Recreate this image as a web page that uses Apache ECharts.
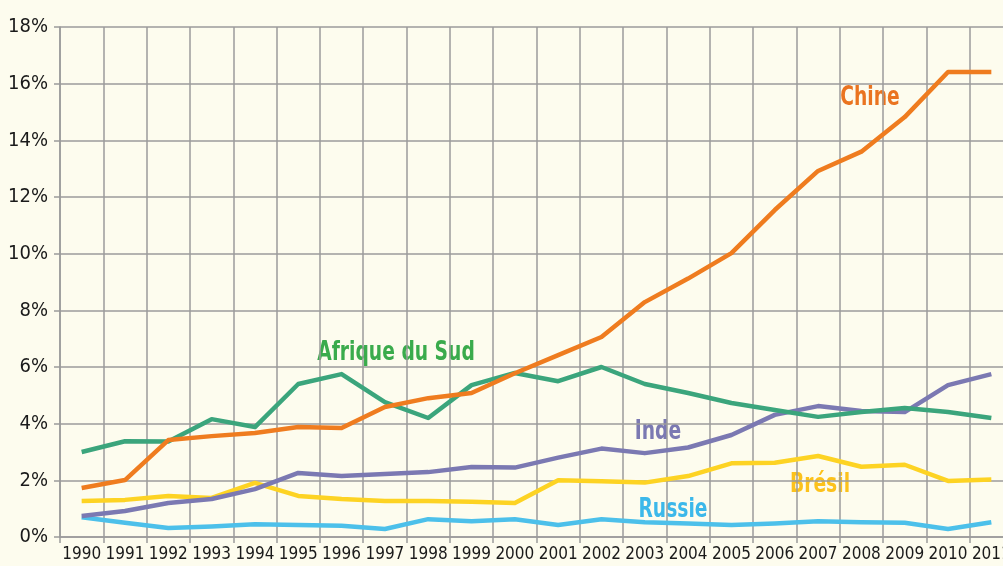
<!DOCTYPE html>
<html>
<head>
<meta charset="utf-8">
<script src="https://cdn.jsdelivr.net/npm/echarts@6/dist/echarts.min.js"></script>
<style>
    html, body { margin: 0; padding: 0; background: #fdfcee; }
    #chart { width: 1003px; height: 566px; }
</style>
</head>
<body>
<div id="chart"></div>
<script>
const years = ['1990', '1991', '1992', '1993', '1994', '1995', '1996', '1997', '1998', '1999', '2000',
    '2001', '2002', '2003', '2004', '2005', '2006', '2007', '2008', '2009', '2010', '2011'];

const chine = [1.73, 2.01, 3.42, 3.56, 3.67, 3.88, 3.85, 4.59, 4.9, 5.08, 5.78,
    6.42, 7.06, 8.29, 9.12, 10.02, 11.54, 12.92, 13.6, 14.82, 16.41, 16.41];
const afriqueDuSud = [3.0, 3.38, 3.37, 4.16, 3.88, 5.4, 5.75, 4.76, 4.2, 5.36, 5.79,
    5.5, 6.0, 5.4, 5.08, 4.73, 4.48, 4.24, 4.41, 4.55, 4.41, 4.2];
const inde = [0.74, 0.92, 1.2, 1.34, 1.69, 2.26, 2.15, 2.22, 2.29, 2.47, 2.45,
    2.8, 3.12, 2.96, 3.16, 3.6, 4.31, 4.62, 4.45, 4.41, 5.36, 5.75];
const bresil = [1.27, 1.31, 1.45, 1.38, 1.91, 1.45, 1.34, 1.27, 1.27, 1.24, 1.2,
    2.0, 1.97, 1.92, 2.15, 2.6, 2.62, 2.86, 2.48, 2.55, 1.98, 2.03];
const russie = [0.7, 0.5, 0.32, 0.37, 0.45, 0.42, 0.4, 0.28, 0.63, 0.56, 0.63,
    0.42, 0.63, 0.52, 0.48, 0.42, 0.48, 0.56, 0.52, 0.5, 0.28, 0.52];

const yTicks = [0, 18, 2];

const FONT = '"DejaVu Sans Condensed", "Liberation Sans Narrow", sans-serif';
const GRID_GRAY = '#9b9b9b';

const chart = echarts.init(document.getElementById('chart'));

function lineSeries(name, data, color) {
    return {
        name: name,
        type: 'line',
        data: data,
        symbol: 'none',
        lineStyle: { color: color, width: 4.5, join: 'round' },
        itemStyle: { color: color }
    };
}

// series names drawn on the plot, squeezed to look like a condensed bold face
function seriesLabel(text, x, y, color) {
    return {
        type: 'text',
        x: x,
        y: y,
        scaleX: 0.77,
        style: {
            text: text,
            fill: color,
            font: 'bold 27px ' + FONT,
            textAlign: 'center',
            textVerticalAlign: 'middle'
        }
    };
}

chart.setOption({
    backgroundColor: '#fdfcee',
    animation: false,
    grid: {
        left: 60,
        right: -10,
        top: 27,
        bottom: 29,
        containLabel: false,
        outerBoundsMode: 'none'
    },
    xAxis: {
        type: 'category',
        data: years,
        boundaryGap: true,
        axisLine: { lineStyle: { color: GRID_GRAY, width: 1.5 } },
        axisTick: { show: true, length: 6, lineStyle: { color: GRID_GRAY, width: 1.5 } },
        axisLabel: { color: '#1a1a1a', fontSize: 17, fontFamily: FONT, margin: 9, interval: 0 },
        splitLine: { show: true, lineStyle: { color: GRID_GRAY, width: 1.5 } }
    },
    yAxis: {
        type: 'value',
        min: yTicks[0],
        max: yTicks[1],
        interval: yTicks[2],
        axisLine: { show: true, lineStyle: { color: GRID_GRAY, width: 1.5 } },
        axisTick: { show: true, length: 6, lineStyle: { color: GRID_GRAY, width: 1.5 } },
        axisLabel: { color: '#1a1a1a', fontSize: 20, fontFamily: FONT, margin: 12, formatter: '{value}%' },
        splitLine: { show: true, lineStyle: { color: GRID_GRAY, width: 1.5 } }
    },
    series: [
        lineSeries('Russie', russie, '#4cc0ea'),
        lineSeries('Brésil', bresil, '#fdd323'),
        lineSeries('Inde', inde, '#7b79b2'),
        lineSeries('Afrique du Sud', afriqueDuSud, '#3ba57c'),
        lineSeries('Chine', chine, '#ef7c1f')
    ],
    graphic: [
        seriesLabel('Chine', 870, 98, '#ea7420'),
        seriesLabel('Afrique du Sud', 396, 353, '#3aab4c'),
        seriesLabel('Inde', 658, 432, '#7b79b2'),
        seriesLabel('Brésil', 820, 485, '#fcc21c'),
        seriesLabel('Russie', 673, 510, '#3cb8ea')
    ]
});
</script>
</body>
</html>
